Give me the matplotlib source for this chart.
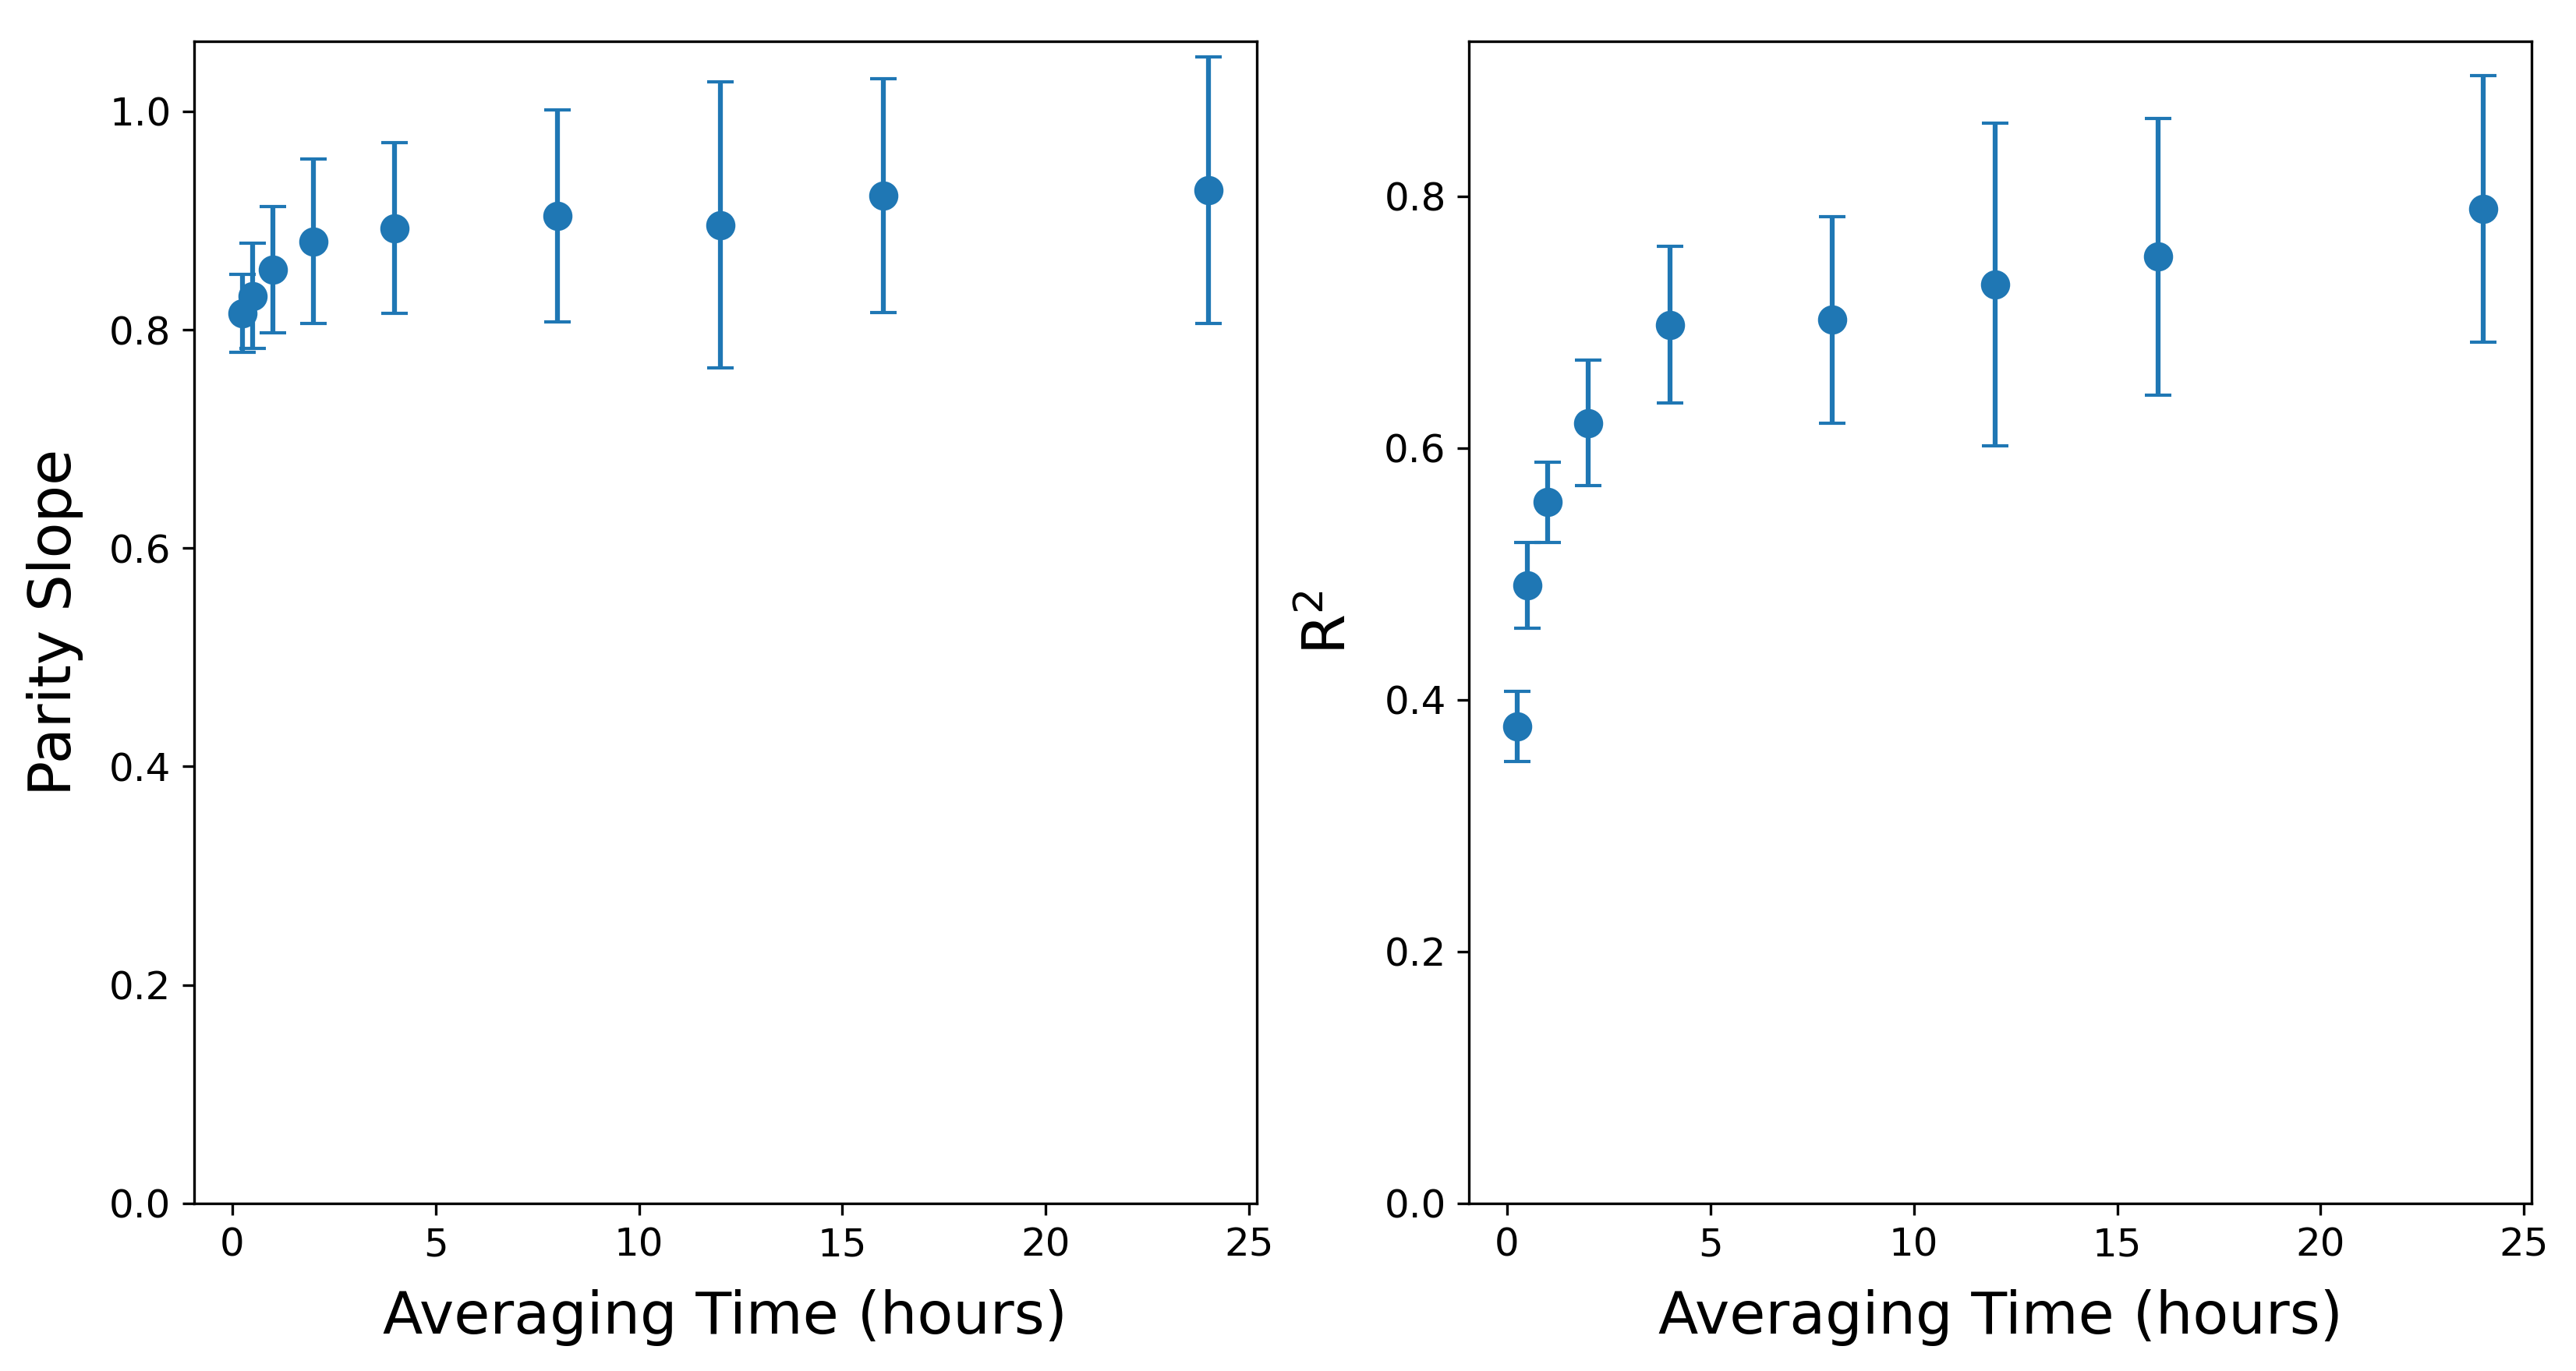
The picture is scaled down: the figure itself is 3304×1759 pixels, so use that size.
import numpy as np
import matplotlib
matplotlib.use("Agg")
import matplotlib.pyplot as plt

# Averaging windows (hours)
avg_hours = [0.25, 0.5, 1, 2, 4, 8, 12, 16, 24]

# Parity slope mean and half-width of error bar
slope_mean = [0.815, 0.831, 0.855, 0.881, 0.893, 0.904, 0.896, 0.923, 0.928]
slope_err = [0.036, 0.048, 0.058, 0.075, 0.078, 0.097, 0.131, 0.107, 0.122]

# R^2 mean and half-width of error bar
r2_mean = [0.379, 0.491, 0.557, 0.620, 0.698, 0.702, 0.730, 0.752, 0.790]
r2_err = [0.028, 0.034, 0.032, 0.050, 0.062, 0.082, 0.128, 0.110, 0.106]

fig, axes = plt.subplots(1, 2, figsize=(3304 / 300, 1759 / 300), dpi=300)
fig.subplots_adjust(left=0.0753, right=0.9828, bottom=0.1223, top=0.970, wspace=0.1994)

panels = [(slope_mean, slope_err, "Parity Slope"), (r2_mean, r2_err, "R$^2$")]
for ax, (mean, err, label) in zip(axes, panels):
    ax.errorbar(avg_hours, mean, yerr=err, fmt="o", color="#1f77b4",
                markersize=8, capsize=4, elinewidth=1.5)
    ax.set_ylim(bottom=0)
    ax.set_xlabel("Averaging Time (hours)", fontsize=18, labelpad=8)
    ax.set_ylabel(label, fontsize=18, labelpad=8)
    ax.tick_params(labelsize=12)

fig.savefig("out.png", dpi=300)
